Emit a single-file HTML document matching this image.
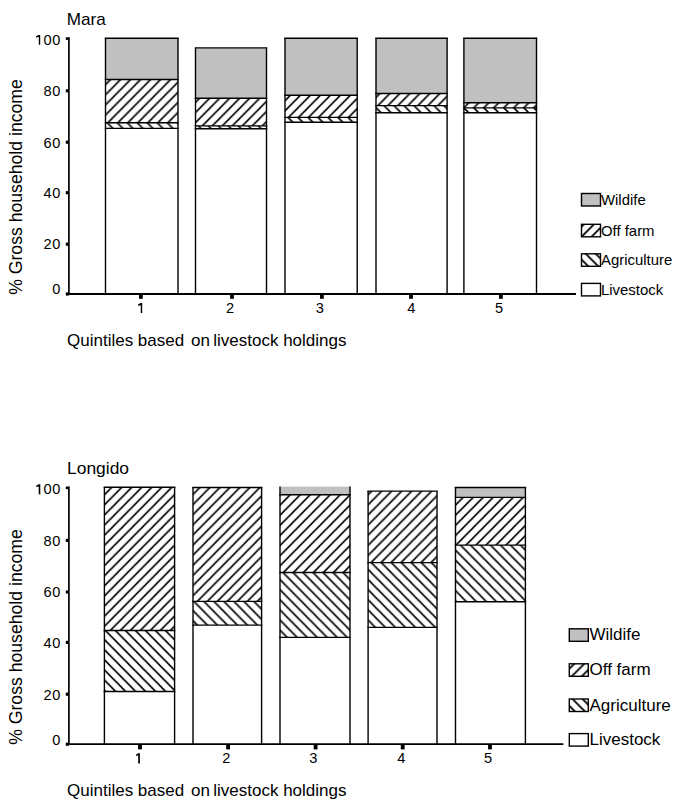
<!DOCTYPE html>
<html><head><meta charset="utf-8"><style>
html,body{margin:0;padding:0;background:#fff;width:685px;height:812px;overflow:hidden}
svg{display:block}
text{font-family:"Liberation Sans", sans-serif;fill:#000;stroke:none}
</style></head><body>
<svg width="685" height="812" viewBox="0 0 685 812">
<defs>
<pattern id="off0t" patternUnits="userSpaceOnUse" width="10" height="10" patternTransform="translate(0.6,122.7) scale(1,1.012) translate(0,-122.7)"><path d="M-1,11 L11,-1 M-6,6 L6,-6 M4,16 L16,4" stroke="#000" stroke-width="1.7"/></pattern>
<pattern id="agri0t" patternUnits="userSpaceOnUse" width="10" height="10" patternTransform="translate(4.5,122.7) scale(1,1.012) translate(0,-122.7)"><path d="M-1,-1 L11,11 M-6,4 L6,16 M4,-6 L16,6" stroke="#000" stroke-width="1.7"/></pattern>
<pattern id="off1t" patternUnits="userSpaceOnUse" width="10" height="10" patternTransform="translate(8.2,125.9) scale(1,1.012) translate(0,-125.9)"><path d="M-1,11 L11,-1 M-6,6 L6,-6 M4,16 L16,4" stroke="#000" stroke-width="1.7"/></pattern>
<pattern id="agri1t" patternUnits="userSpaceOnUse" width="10" height="10" patternTransform="translate(2.5,125.9) scale(1,1.012) translate(0,-125.9)"><path d="M-1,-1 L11,11 M-6,4 L6,16 M4,-6 L16,6" stroke="#000" stroke-width="1.7"/></pattern>
<pattern id="off2t" patternUnits="userSpaceOnUse" width="10" height="10" patternTransform="translate(5.9,117.4) scale(1,1.012) translate(0,-117.4)"><path d="M-1,11 L11,-1 M-6,6 L6,-6 M4,16 L16,4" stroke="#000" stroke-width="1.7"/></pattern>
<pattern id="agri2t" patternUnits="userSpaceOnUse" width="10" height="10" patternTransform="translate(0.6,117.4) scale(1,1.012) translate(0,-117.4)"><path d="M-1,-1 L11,11 M-6,4 L6,16 M4,-6 L16,6" stroke="#000" stroke-width="1.7"/></pattern>
<pattern id="off3t" patternUnits="userSpaceOnUse" width="10" height="10" patternTransform="translate(3.5,105.6) scale(1,1.012) translate(0,-105.6)"><path d="M-1,11 L11,-1 M-6,6 L6,-6 M4,16 L16,4" stroke="#000" stroke-width="1.7"/></pattern>
<pattern id="agri3t" patternUnits="userSpaceOnUse" width="10" height="10" patternTransform="translate(8.4,105.6) scale(1,1.012) translate(0,-105.6)"><path d="M-1,-1 L11,11 M-6,4 L6,16 M4,-6 L16,6" stroke="#000" stroke-width="1.7"/></pattern>
<pattern id="off4t" patternUnits="userSpaceOnUse" width="10" height="10" patternTransform="translate(1.6,107.9) scale(1,1.012) translate(0,-107.9)"><path d="M-1,11 L11,-1 M-6,6 L6,-6 M4,16 L16,4" stroke="#000" stroke-width="1.7"/></pattern>
<pattern id="agri4t" patternUnits="userSpaceOnUse" width="10" height="10" patternTransform="translate(6.0,107.9) scale(1,1.012) translate(0,-107.9)"><path d="M-1,-1 L11,11 M-6,4 L6,16 M4,-6 L16,6" stroke="#000" stroke-width="1.7"/></pattern>
<pattern id="lofft" patternUnits="userSpaceOnUse" width="10" height="10" patternTransform="translate(584.0,224.3)"><path d="M-1,11 L11,-1 M-6,6 L6,-6 M4,16 L16,4" stroke="#000" stroke-width="1.8"/></pattern>
<pattern id="lagrit" patternUnits="userSpaceOnUse" width="10" height="10" patternTransform="translate(585.8,253.8)"><path d="M-1,-1 L11,11 M-6,4 L6,16 M4,-6 L16,6" stroke="#000" stroke-width="1.8"/></pattern>
<pattern id="off0b" patternUnits="userSpaceOnUse" width="10" height="10" patternTransform="translate(0.8,630.5) scale(1,1.012) translate(0,-630.5)"><path d="M-1,11 L11,-1 M-6,6 L6,-6 M4,16 L16,4" stroke="#000" stroke-width="1.7"/></pattern>
<pattern id="agri0b" patternUnits="userSpaceOnUse" width="10" height="10" patternTransform="translate(4.9,630.5) scale(1,1.012) translate(0,-630.5)"><path d="M-1,-1 L11,11 M-6,4 L6,16 M4,-6 L16,6" stroke="#000" stroke-width="1.7"/></pattern>
<pattern id="off1b" patternUnits="userSpaceOnUse" width="10" height="10" patternTransform="translate(8.7,601.4) scale(1,1.012) translate(0,-601.4)"><path d="M-1,11 L11,-1 M-6,6 L6,-6 M4,16 L16,4" stroke="#000" stroke-width="1.7"/></pattern>
<pattern id="agri1b" patternUnits="userSpaceOnUse" width="10" height="10" patternTransform="translate(2.5,601.4) scale(1,1.012) translate(0,-601.4)"><path d="M-1,-1 L11,11 M-6,4 L6,16 M4,-6 L16,6" stroke="#000" stroke-width="1.7"/></pattern>
<pattern id="off2b" patternUnits="userSpaceOnUse" width="10" height="10" patternTransform="translate(5.9,572.5) scale(1,1.012) translate(0,-572.5)"><path d="M-1,11 L11,-1 M-6,6 L6,-6 M4,16 L16,4" stroke="#000" stroke-width="1.7"/></pattern>
<pattern id="agri2b" patternUnits="userSpaceOnUse" width="10" height="10" patternTransform="translate(0.5,572.5) scale(1,1.012) translate(0,-572.5)"><path d="M-1,-1 L11,11 M-6,4 L6,16 M4,-6 L16,6" stroke="#000" stroke-width="1.7"/></pattern>
<pattern id="off3b" patternUnits="userSpaceOnUse" width="10" height="10" patternTransform="translate(3.6,562.6) scale(1,1.012) translate(0,-562.6)"><path d="M-1,11 L11,-1 M-6,6 L6,-6 M4,16 L16,4" stroke="#000" stroke-width="1.7"/></pattern>
<pattern id="agri3b" patternUnits="userSpaceOnUse" width="10" height="10" patternTransform="translate(8.7,562.6) scale(1,1.012) translate(0,-562.6)"><path d="M-1,-1 L11,11 M-6,4 L6,16 M4,-6 L16,6" stroke="#000" stroke-width="1.7"/></pattern>
<pattern id="off4b" patternUnits="userSpaceOnUse" width="10" height="10" patternTransform="translate(1.1,545.1) scale(1,1.012) translate(0,-545.1)"><path d="M-1,11 L11,-1 M-6,6 L6,-6 M4,16 L16,4" stroke="#000" stroke-width="1.7"/></pattern>
<pattern id="agri4b" patternUnits="userSpaceOnUse" width="10" height="10" patternTransform="translate(5.4,545.1) scale(1,1.012) translate(0,-545.1)"><path d="M-1,-1 L11,11 M-6,4 L6,16 M4,-6 L16,6" stroke="#000" stroke-width="1.7"/></pattern>
<pattern id="loffb" patternUnits="userSpaceOnUse" width="10" height="10" patternTransform="translate(574.3,663.8)"><path d="M-1,11 L11,-1 M-6,6 L6,-6 M4,16 L16,4" stroke="#000" stroke-width="1.8"/></pattern>
<pattern id="lagrib" patternUnits="userSpaceOnUse" width="10" height="10" patternTransform="translate(572.5,699.0)"><path d="M-1,-1 L11,11 M-6,4 L6,16 M4,-6 L16,6" stroke="#000" stroke-width="1.8"/></pattern>
</defs>
<g stroke="#000" stroke-width="1.4" fill="none">
</g>
<g stroke="#000" stroke-width="1.4">
<text transform="translate(66.8,24.7) scale(1.07,1)" font-size="16">Mara</text>
<rect x="105.5" y="38.3" width="72.50" height="41.20" fill="#c0c0c0" stroke="none"/>
<rect x="105.5" y="79.5" width="72.50" height="43.20" fill="url(#off0t)" stroke="none"/>
<rect x="105.5" y="122.7" width="72.50" height="5.70" fill="url(#agri0t)" stroke="none"/>
<rect x="105.5" y="128.4" width="72.50" height="165.60" fill="#fff" stroke="none"/>
<line x1="105.5" y1="38.3" x2="105.5" y2="294.0" />
<line x1="178.0" y1="38.3" x2="178.0" y2="294.0" />
<line x1="104.75" y1="38.3" x2="178.75" y2="38.3" />
<line x1="104.75" y1="79.5" x2="178.75" y2="79.5" />
<line x1="104.75" y1="122.7" x2="178.75" y2="122.7" />
<line x1="104.75" y1="128.4" x2="178.75" y2="128.4" />
<rect x="195.5" y="47.9" width="71.00" height="50.40" fill="#c0c0c0" stroke="none"/>
<rect x="195.5" y="98.3" width="71.00" height="27.60" fill="url(#off1t)" stroke="none"/>
<rect x="195.5" y="125.9" width="71.00" height="2.80" fill="url(#agri1t)" stroke="none"/>
<rect x="195.5" y="128.7" width="71.00" height="165.30" fill="#fff" stroke="none"/>
<line x1="195.5" y1="47.9" x2="195.5" y2="294.0" />
<line x1="266.5" y1="47.9" x2="266.5" y2="294.0" />
<line x1="194.75" y1="47.9" x2="267.25" y2="47.9" />
<line x1="194.75" y1="98.3" x2="267.25" y2="98.3" />
<line x1="194.75" y1="125.9" x2="267.25" y2="125.9" />
<line x1="194.75" y1="128.7" x2="267.25" y2="128.7" />
<rect x="285.0" y="38.3" width="72.20" height="57.00" fill="#c0c0c0" stroke="none"/>
<rect x="285.0" y="95.3" width="72.20" height="22.10" fill="url(#off2t)" stroke="none"/>
<rect x="285.0" y="117.4" width="72.20" height="4.80" fill="url(#agri2t)" stroke="none"/>
<rect x="285.0" y="122.2" width="72.20" height="171.80" fill="#fff" stroke="none"/>
<line x1="285.0" y1="38.3" x2="285.0" y2="294.0" />
<line x1="357.2" y1="38.3" x2="357.2" y2="294.0" />
<line x1="284.25" y1="38.3" x2="357.95" y2="38.3" />
<line x1="284.25" y1="95.3" x2="357.95" y2="95.3" />
<line x1="284.25" y1="117.4" x2="357.95" y2="117.4" />
<line x1="284.25" y1="122.2" x2="357.95" y2="122.2" />
<rect x="376.0" y="38.3" width="71.10" height="55.20" fill="#c0c0c0" stroke="none"/>
<rect x="376.0" y="93.5" width="71.10" height="12.10" fill="url(#off3t)" stroke="none"/>
<rect x="376.0" y="105.6" width="71.10" height="7.20" fill="url(#agri3t)" stroke="none"/>
<rect x="376.0" y="112.8" width="71.10" height="181.20" fill="#fff" stroke="none"/>
<line x1="376.0" y1="38.3" x2="376.0" y2="294.0" />
<line x1="447.1" y1="38.3" x2="447.1" y2="294.0" />
<line x1="375.25" y1="38.3" x2="447.85" y2="38.3" />
<line x1="375.25" y1="93.5" x2="447.85" y2="93.5" />
<line x1="375.25" y1="105.6" x2="447.85" y2="105.6" />
<line x1="375.25" y1="112.8" x2="447.85" y2="112.8" />
<rect x="463.9" y="38.3" width="72.60" height="64.40" fill="#c0c0c0" stroke="none"/>
<rect x="463.9" y="102.7" width="72.60" height="5.20" fill="url(#off4t)" stroke="none"/>
<rect x="463.9" y="107.9" width="72.60" height="4.90" fill="url(#agri4t)" stroke="none"/>
<rect x="463.9" y="112.8" width="72.60" height="181.20" fill="#fff" stroke="none"/>
<line x1="463.9" y1="38.3" x2="463.9" y2="294.0" />
<line x1="536.5" y1="38.3" x2="536.5" y2="294.0" />
<line x1="463.15" y1="38.3" x2="537.25" y2="38.3" />
<line x1="463.15" y1="102.7" x2="537.25" y2="102.7" />
<line x1="463.15" y1="107.9" x2="537.25" y2="107.9" />
<line x1="463.15" y1="112.8" x2="537.25" y2="112.8" />
<line x1="68.9" y1="37.3" x2="68.9" y2="294.0" stroke-width="1.7"/>
<line x1="68.10000000000001" y1="294.0" x2="576" y2="294.0" stroke-width="1.8"/>
<rect x="65.80" y="37.30" width="3.1" height="2.6" fill="#000" stroke="none"/>
<rect x="65.80" y="89.20" width="3.1" height="3.2" fill="#000" stroke="none"/>
<rect x="65.80" y="140.60" width="3.1" height="3.2" fill="#000" stroke="none"/>
<rect x="65.80" y="191.10" width="3.1" height="3.2" fill="#000" stroke="none"/>
<rect x="65.80" y="242.60" width="3.1" height="3.2" fill="#000" stroke="none"/>
<rect x="65.80" y="292.40" width="3.1" height="3.2" fill="#000" stroke="none"/>
<path d="M40.20,44.80 L40.20,34.90 L38.60,34.90 L36.00,36.29 L36.00,37.57 L38.80,36.98 L38.80,44.80 Z" fill="#000" stroke="none"/>
<text transform="translate(60.8,44.5) scale(1.0,1)" font-size="14.6" letter-spacing="0.5" text-anchor="end">00</text>
<text transform="translate(60.8,95.8) scale(1.0,1)" font-size="14.6" letter-spacing="0.5" text-anchor="end">80</text>
<text transform="translate(60.8,147.7) scale(1.0,1)" font-size="14.6" letter-spacing="0.5" text-anchor="end">60</text>
<text transform="translate(60.8,197.6) scale(1.0,1)" font-size="14.6" letter-spacing="0.5" text-anchor="end">40</text>
<text transform="translate(60.8,249.0) scale(1.0,1)" font-size="14.6" letter-spacing="0.5" text-anchor="end">20</text>
<text transform="translate(60.8,294.3) scale(1.0,1)" font-size="14.6" letter-spacing="0.5" text-anchor="end">0</text>
<rect x="139.00" y="294.0" width="3.8" height="4.8" fill="#000" stroke="none"/>
<path d="M142.20,312.90 L142.20,303.10 L140.55,303.10 L138.00,304.47 L138.00,305.75 L140.75,305.16 L140.75,312.90 Z" fill="#000" stroke="none"/>
<rect x="230.10" y="294.0" width="3.8" height="4.8" fill="#000" stroke="none"/>
<text transform="translate(230.0,312.8) scale(1.0,1)" font-size="14.6" text-anchor="middle">2</text>
<rect x="320.00" y="294.0" width="3.8" height="4.8" fill="#000" stroke="none"/>
<text transform="translate(319.7,312.8) scale(1.0,1)" font-size="14.6" text-anchor="middle">3</text>
<rect x="409.10" y="294.0" width="3.8" height="4.8" fill="#000" stroke="none"/>
<text transform="translate(411.3,312.8) scale(1.0,1)" font-size="14.6" text-anchor="middle">4</text>
<rect x="499.00" y="294.0" width="3.8" height="4.8" fill="#000" stroke="none"/>
<text transform="translate(499.1,312.8) scale(1.0,1)" font-size="14.6" text-anchor="middle">5</text>
<text x="67.0" y="346.0" font-size="17">Quintiles based <tspan dx="2.1">on</tspan><tspan dx="-1.4"> livestock holdings</tspan></text>
<text transform="translate(22.0,187.0) rotate(-90)" font-size="17.65" text-anchor="middle">% Gross household income</text>
<rect x="581.5" y="193.5" width="19" height="12.5" fill="#c0c0c0" stroke="#000" stroke-width="1.4"/>
<text transform="translate(601.0,204.9) scale(1.05,1)" font-size="14.2">Wildife</text>
<rect x="581.5" y="224.3" width="19" height="12.5" fill="url(#lofft)" stroke="#000" stroke-width="1.4"/>
<text transform="translate(601.0,235.70000000000002) scale(1.05,1)" font-size="14.2">Off farm</text>
<rect x="581.5" y="253.8" width="19" height="12.5" fill="url(#lagrit)" stroke="#000" stroke-width="1.4"/>
<text transform="translate(601.0,265.2) scale(1.05,1)" font-size="14.2">Agriculture</text>
<rect x="581.5" y="283.4" width="19" height="12.5" fill="#fff" stroke="#000" stroke-width="1.4"/>
<text transform="translate(601.0,294.79999999999995) scale(1.05,1)" font-size="14.2">Livestock</text>
<text transform="translate(67.0,474.3) scale(1.09,1)" font-size="16">Longido</text>
<rect x="104.4" y="487.3" width="70.20" height="143.20" fill="url(#off0b)" stroke="none"/>
<rect x="104.4" y="630.5" width="70.20" height="61.00" fill="url(#agri0b)" stroke="none"/>
<rect x="104.4" y="691.5" width="70.20" height="52.70" fill="#fff" stroke="none"/>
<line x1="104.4" y1="487.3" x2="104.4" y2="744.2" />
<line x1="174.6" y1="487.3" x2="174.6" y2="744.2" />
<line x1="103.65" y1="487.3" x2="175.35" y2="487.3" />
<line x1="103.65" y1="630.5" x2="175.35" y2="630.5" />
<line x1="103.65" y1="691.5" x2="175.35" y2="691.5" />
<rect x="193.0" y="487.5" width="68.60" height="113.90" fill="url(#off1b)" stroke="none"/>
<rect x="193.0" y="601.4" width="68.60" height="23.70" fill="url(#agri1b)" stroke="none"/>
<rect x="193.0" y="625.1" width="68.60" height="119.10" fill="#fff" stroke="none"/>
<line x1="193.0" y1="487.5" x2="193.0" y2="744.2" />
<line x1="261.6" y1="487.5" x2="261.6" y2="744.2" />
<line x1="192.25" y1="487.5" x2="262.35" y2="487.5" />
<line x1="192.25" y1="601.4" x2="262.35" y2="601.4" />
<line x1="192.25" y1="625.1" x2="262.35" y2="625.1" />
<rect x="280.0" y="486.6" width="70.00" height="8.20" fill="#c0c0c0" stroke="none"/>
<rect x="280.0" y="494.8" width="70.00" height="77.70" fill="url(#off2b)" stroke="none"/>
<rect x="280.0" y="572.5" width="70.00" height="64.90" fill="url(#agri2b)" stroke="none"/>
<rect x="280.0" y="637.4" width="70.00" height="106.80" fill="#fff" stroke="none"/>
<line x1="280.0" y1="486.6" x2="280.0" y2="744.2" />
<line x1="350.0" y1="486.6" x2="350.0" y2="744.2" />
<line x1="279.25" y1="494.8" x2="350.75" y2="494.8" />
<line x1="279.25" y1="572.5" x2="350.75" y2="572.5" />
<line x1="279.25" y1="637.4" x2="350.75" y2="637.4" />
<rect x="368.1" y="491.1" width="68.90" height="71.50" fill="url(#off3b)" stroke="none"/>
<rect x="368.1" y="562.6" width="68.90" height="64.80" fill="url(#agri3b)" stroke="none"/>
<rect x="368.1" y="627.4" width="68.90" height="116.80" fill="#fff" stroke="none"/>
<line x1="368.1" y1="491.1" x2="368.1" y2="744.2" />
<line x1="437.0" y1="491.1" x2="437.0" y2="744.2" />
<line x1="367.35" y1="491.1" x2="437.75" y2="491.1" />
<line x1="367.35" y1="562.6" x2="437.75" y2="562.6" />
<line x1="367.35" y1="627.4" x2="437.75" y2="627.4" />
<rect x="455.5" y="487.5" width="69.90" height="9.90" fill="#c0c0c0" stroke="none"/>
<rect x="455.5" y="497.4" width="69.90" height="47.70" fill="url(#off4b)" stroke="none"/>
<rect x="455.5" y="545.1" width="69.90" height="56.70" fill="url(#agri4b)" stroke="none"/>
<rect x="455.5" y="601.8" width="69.90" height="142.40" fill="#fff" stroke="none"/>
<line x1="455.5" y1="487.5" x2="455.5" y2="744.2" />
<line x1="525.4" y1="487.5" x2="525.4" y2="744.2" />
<line x1="454.75" y1="487.5" x2="526.15" y2="487.5" />
<line x1="454.75" y1="497.4" x2="526.15" y2="497.4" />
<line x1="454.75" y1="545.1" x2="526.15" y2="545.1" />
<line x1="454.75" y1="601.8" x2="526.15" y2="601.8" />
<line x1="68.9" y1="486.6" x2="68.9" y2="744.2" stroke-width="1.7"/>
<line x1="68.10000000000001" y1="744.2" x2="563.4" y2="744.2" stroke-width="1.8"/>
<rect x="65.80" y="486.60" width="3.1" height="2.6" fill="#000" stroke="none"/>
<rect x="65.80" y="538.80" width="3.1" height="3.2" fill="#000" stroke="none"/>
<rect x="65.80" y="590.40" width="3.1" height="3.2" fill="#000" stroke="none"/>
<rect x="65.80" y="640.80" width="3.1" height="3.2" fill="#000" stroke="none"/>
<rect x="65.80" y="692.60" width="3.1" height="3.2" fill="#000" stroke="none"/>
<rect x="65.80" y="742.60" width="3.1" height="3.2" fill="#000" stroke="none"/>
<path d="M40.30,494.20 L40.30,484.30 L38.50,484.30 L36.20,485.69 L36.20,486.97 L38.70,486.38 L38.70,494.20 Z" fill="#000" stroke="none"/>
<text transform="translate(60.8,494.1) scale(1.0,1)" font-size="14.6" letter-spacing="0.5" text-anchor="end">00</text>
<text transform="translate(60.8,545.9) scale(1.0,1)" font-size="14.6" letter-spacing="0.5" text-anchor="end">80</text>
<text transform="translate(60.8,597.3) scale(1.0,1)" font-size="14.6" letter-spacing="0.5" text-anchor="end">60</text>
<text transform="translate(60.8,648.4) scale(1.0,1)" font-size="14.6" letter-spacing="0.5" text-anchor="end">40</text>
<text transform="translate(60.8,699.5) scale(1.0,1)" font-size="14.6" letter-spacing="0.5" text-anchor="end">20</text>
<text transform="translate(60.8,744.9) scale(1.0,1)" font-size="14.6" letter-spacing="0.5" text-anchor="end">0</text>
<rect x="138.10" y="744.2" width="3.8" height="5.2" fill="#000" stroke="none"/>
<path d="M139.90,763.50 L139.90,753.20 L138.00,753.20 L136.00,754.64 L136.00,755.98 L138.20,755.36 L138.20,763.50 Z" fill="#000" stroke="none"/>
<rect x="226.20" y="744.2" width="3.8" height="5.2" fill="#000" stroke="none"/>
<text transform="translate(226.4,763.4) scale(1.0,1)" font-size="14.6" text-anchor="middle">2</text>
<rect x="313.70" y="744.2" width="3.8" height="5.2" fill="#000" stroke="none"/>
<text transform="translate(313.4,763.4) scale(1.0,1)" font-size="14.6" text-anchor="middle">3</text>
<rect x="400.80" y="744.2" width="3.8" height="5.2" fill="#000" stroke="none"/>
<text transform="translate(401.4,763.4) scale(1.0,1)" font-size="14.6" text-anchor="middle">4</text>
<rect x="488.10" y="744.2" width="3.8" height="5.2" fill="#000" stroke="none"/>
<text transform="translate(488.1,763.4) scale(1.0,1)" font-size="14.6" text-anchor="middle">5</text>
<text x="67.0" y="796.2" font-size="17">Quintiles based <tspan dx="2.1">on</tspan><tspan dx="-1.4"> livestock holdings</tspan></text>
<text transform="translate(22.0,637.0) rotate(-90)" font-size="17.65" text-anchor="middle">% Gross household income</text>
<rect x="569.3" y="628.8" width="19" height="12.5" fill="#c0c0c0" stroke="#000" stroke-width="1.4"/>
<text transform="translate(589.5,640.3) scale(1.025,1)" font-size="16.6">Wildife</text>
<rect x="569.3" y="663.8" width="19" height="12.5" fill="url(#loffb)" stroke="#000" stroke-width="1.4"/>
<text transform="translate(589.5,675.3) scale(1.025,1)" font-size="16.6">Off farm</text>
<rect x="569.3" y="699.0" width="19" height="12.5" fill="url(#lagrib)" stroke="#000" stroke-width="1.4"/>
<text transform="translate(589.5,710.5) scale(1.025,1)" font-size="16.6">Agriculture</text>
<rect x="569.3" y="733.6" width="19" height="12.5" fill="#fff" stroke="#000" stroke-width="1.4"/>
<text transform="translate(589.5,745.1) scale(1.025,1)" font-size="16.6">Livestock</text>
</g>
</svg>
</body></html>
